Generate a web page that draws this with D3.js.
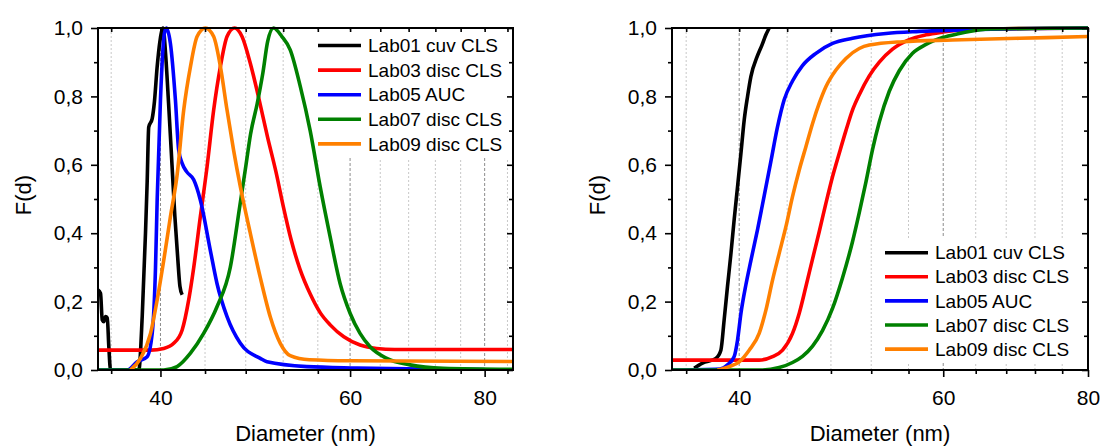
<!DOCTYPE html>
<meta charset="utf-8">
<svg width="1105" height="447"></svg>
<script src="https://d3js.org/d3.v7.min.js"></script>
<style>
body { margin:0; background:#fff; }
svg { display:block; }
text { font-family:"Liberation Sans", Arial, sans-serif; fill:#000; }
</style>
<script>

// ---- data ----
var labels = ['Lab01 cuv CLS', 'Lab03 disc CLS', 'Lab05 AUC', 'Lab07 disc CLS', 'Lab09 disc CLS'];
var colors = ['#000000', '#ff0000', '#0000ff', '#008000', '#ff8000'];

// left panel: normalised density
var lab01Dens_d = [35.0, 35.19, 35.32, 35.44, 35.57, 35.70, 35.82, 35.95, 38.19, 38.47, 38.74, 38.88, 39.01, 39.30, 39.49, 39.72, 39.95, 40.23, 40.45, 40.7, 41.0, 41.25, 41.5, 41.7, 41.9];
var lab01Dens_F = [0.234, 0.224, 0.146, 0.141, 0.156, 0.152, 0.068, 0, 0, 0.156, 0.40, 0.55, 0.71, 0.735, 0.785, 0.887, 0.96, 1.0, 0.92, 0.78, 0.6, 0.45, 0.33, 0.245, 0.22];

var lab03Dens_d = [35, 39.16, 40.28, 41.15, 41.90, 42.49, 42.95, 43.56, 44.19, 44.82, 45.47, 46.12, 46.87, 47.62, 48.47, 49.4, 50.3, 51.2, 52.0, 52.9, 53.9, 55.1, 56.3, 57.5, 59.2, 61.3, 63.5, 66, 85];
var lab03Dens_F = [0.058, 0.058, 0.063, 0.078, 0.117, 0.205, 0.30, 0.448, 0.594, 0.76, 0.887, 0.975, 1.0, 0.975, 0.897, 0.79, 0.68, 0.58, 0.48, 0.38, 0.295, 0.222, 0.167, 0.132, 0.097, 0.073, 0.063, 0.06, 0.06];

var lab05Dens_d = [35, 37.26, 38.06, 38.88, 39.30, 39.58, 39.72, 40.0, 40.34, 40.52, 40.86, 41.3, 41.59, 41.9, 42.3, 42.95, 43.56, 44.5, 45.14, 46.12, 47.45, 49.52, 50.23, 54.7, 60.86, 70.1, 80];
var lab05Dens_F = [0, 0, 0.024, 0.039, 0.107, 0.30, 0.497, 0.79, 0.985, 1.0, 0.955, 0.79, 0.643, 0.604, 0.58, 0.556, 0.497, 0.35, 0.253, 0.156, 0.078, 0.034, 0.024, 0.01, 0.006, 0.003, 0.001];

var lab07Dens_d = [35, 40.28, 41.45, 42.65, 43.87, 45.14, 46.44, 47.4, 48.0, 48.5, 49.2, 49.8, 50.3, 50.94, 51.86, 52.79, 53.93, 55.09, 56.28, 57.49, 58.73, 60, 61.29, 62.62, 64.89, 68.2, 73.22, 85];
var lab07Dens_F = [0, 0, 0.01, 0.049, 0.107, 0.185, 0.30, 0.48, 0.594, 0.69, 0.78, 0.87, 0.96, 1.0, 0.975, 0.936, 0.83, 0.70, 0.536, 0.39, 0.253, 0.166, 0.107, 0.068, 0.034, 0.015, 0.005, 0.002];

var lab09Dens_d = [37.52, 38.33, 39.16, 39.72, 40.28, 40.86, 41.45, 42.04, 42.65, 43.26, 44.03, 44.82, 45.47, 46.12, 46.77, 47.45, 48.47, 49.52, 50.59, 51.68, 52.79, 55.0, 60.0, 85];
var lab09Dens_F = [0, 0.034, 0.107, 0.205, 0.32, 0.448, 0.57, 0.76, 0.887, 0.975, 1.0, 0.975, 0.887, 0.76, 0.643, 0.536, 0.40, 0.27, 0.155, 0.078, 0.042, 0.03, 0.027, 0.025];

// right panel: cumulative
var lab01Cum_d = [36.58, 37.18, 38.19, 38.57, 38.82, 39.08, 39.35, 39.60, 39.87, 40.14, 40.40, 40.67, 40.94, 41.45, 41.85, 42.18, 42.46];
var lab01Cum_F = [0.005, 0.02, 0.034, 0.058, 0.146, 0.244, 0.341, 0.439, 0.536, 0.634, 0.731, 0.80, 0.858, 0.916, 0.95, 0.98, 1.0];

var lab03Cum_d = [35, 41.62, 42.74, 43.60, 44.47, 45.07, 45.67, 46.28, 46.9, 47.52, 48.15, 48.8, 49.45, 50.1, 50.78, 51.8, 52.84, 54.25, 56.08, 57.98, 59.92, 63.2, 80];
var lab03Cum_F = [0.029, 0.029, 0.039, 0.058, 0.107, 0.166, 0.244, 0.325, 0.405, 0.487, 0.565, 0.634, 0.70, 0.76, 0.805, 0.86, 0.90, 0.938, 0.966, 0.98, 0.988, 0.996, 1.0];

var lab05Cum_d = [35, 38.5, 39.08, 39.60, 39.87, 40.14, 40.54, 40.94, 41.48, 42.04, 42.60, 43.16, 43.74, 44.47, 45.36, 46.59, 48.15, 50.1, 53.55, 57.2, 63.2, 80];
var lab05Cum_F = [0, 0.003, 0.015, 0.039, 0.088, 0.166, 0.25, 0.32, 0.41, 0.51, 0.61, 0.71, 0.79, 0.845, 0.89, 0.926, 0.955, 0.97, 0.984, 0.99, 0.995, 1.0];

var lab07Cum_d = [35, 41.9, 43.31, 44.47, 45.36, 46.28, 47.20, 48.15, 49.12, 50.1, 50.78, 51.46, 52.14, 52.84, 53.9, 54.98, 56.45, 57.98, 59.92, 61.95, 63.2, 65.75, 80];
var lab07Cum_F = [0, 0, 0.007, 0.022, 0.04, 0.07, 0.115, 0.18, 0.27, 0.375, 0.46, 0.55, 0.645, 0.725, 0.815, 0.875, 0.926, 0.952, 0.972, 0.984, 0.99, 0.997, 1.0];

var lab09Cum_d = [38.31, 39.21, 40.0, 40.80, 41.62, 42.18, 42.74, 43.31, 43.89, 44.47, 45.07, 45.67, 46.28, 46.9, 47.52, 48.48, 49.45, 50.78, 51.8, 55.34, 61.12, 69.8, 80];
var lab09Cum_F = [0, 0.01, 0.024, 0.058, 0.107, 0.175, 0.263, 0.341, 0.419, 0.507, 0.585, 0.653, 0.721, 0.78, 0.828, 0.877, 0.911, 0.94, 0.95, 0.96, 0.965, 0.97, 0.975];

var yMajor = [0, 0.2, 0.4, 0.6, 0.8, 1.0];
var yMinor = [0.1, 0.3, 0.5, 0.7, 0.9];

function zip(d, F) {
    return d.map(function(v, i) { return {d: v, F: F[i]} })
}

var svg = d3.select('svg');

function drawPanel(p) {
    var x = d3.scaleLog().domain([35, p.xMax]).range([p.x0, p.x1]);
    var y = d3.scaleLinear().domain([0, 1]).range([p.y1, p.y0]);
    var g = svg.append('g');

    var ticks = d3.range(36, p.xMax + 0.1, 4);
    var major = ticks.filter(function(v) { return v % 20 === 0 });
    var minor = ticks.filter(function(v) { return v % 20 !== 0 });

    // vertical grid
    g.append('g').selectAll('line').data(minor).enter().append('line')
        .attr('x1', function(v) { return x(v) }).attr('x2', function(v) { return x(v) })
        .attr('y1', p.y0).attr('y2', p.y1)
        .attr('stroke', '#c8c8c8').attr('stroke-width', 1).attr('stroke-dasharray', '2,2');
    g.append('g').selectAll('line').data(major).enter().append('line')
        .attr('x1', function(v) { return x(v) }).attr('x2', function(v) { return x(v) })
        .attr('y1', p.y0).attr('y2', p.y1)
        .attr('stroke', '#8c8c8c').attr('stroke-width', 1).attr('stroke-dasharray', '3,2');

    // legend background hides the grid
    g.append('rect').attr('x', p.leg.bx).attr('y', p.leg.by)
        .attr('width', p.leg.bw).attr('height', p.leg.bh).attr('fill', '#fff');

    var clipId = 'clip' + p.x0;
    g.append('clipPath').attr('id', clipId).append('rect')
        .attr('x', p.x0).attr('y', p.y0 - 2).attr('width', p.x1 - p.x0).attr('height', p.y1 - p.y0 + 2);

    var line = d3.line()
        .x(function(pt) { return x(pt.d) })
        .y(function(pt) { return y(pt.F) })
        .curve(d3.curveMonotoneX);

    g.append('g').attr('clip-path', 'url(#' + clipId + ')')
        .selectAll('path').data(p.series).enter().append('path')
        .attr('d', function(s) { return line(s) })
        .attr('fill', 'none')
        .attr('stroke', function(s, i) { return colors[i] })
        .attr('stroke-width', 3.6)
        .attr('stroke-linejoin', 'round');

    // axes
    function style(sel) {
        sel.select('.domain').remove();
        sel.selectAll('line').attr('stroke', '#000').attr('stroke-width', 1.6);
        sel.selectAll('text').attr('font-size', 21).attr('font-family', '"Liberation Sans", Arial, sans-serif');
    }
    var fmt = function(v) { return d3.format('.1f')(v).replace('.', ',') };

    g.append('g').attr('transform', 'translate(0,' + p.y1 + ')')
        .call(d3.axisBottom(x).tickValues(major).tickSize(7).tickPadding(13).tickFormat(d3.format('d'))).call(style);
    g.append('g').attr('transform', 'translate(0,' + p.y1 + ')')
        .call(d3.axisBottom(x).tickValues(minor).tickSize(4).tickFormat('')).call(style);
    g.append('g').attr('transform', 'translate(0,' + p.y0 + ')')
        .call(d3.axisTop(x).tickValues(ticks).tickSize(-4).tickFormat('')).call(style);

    g.append('g').attr('transform', 'translate(' + p.x0 + ',0)')
        .call(d3.axisLeft(y).tickValues(yMajor).tickSize(7).tickPadding(8).tickFormat(fmt)).call(style);
    g.append('g').attr('transform', 'translate(' + p.x0 + ',0)')
        .call(d3.axisLeft(y).tickValues(yMinor).tickSize(4).tickFormat('')).call(style);
    g.append('g').attr('transform', 'translate(' + p.x1 + ',0)')
        .call(d3.axisRight(y).tickValues(yMajor).tickSize(-6).tickFormat('')).call(style);
    g.append('g').attr('transform', 'translate(' + p.x1 + ',0)')
        .call(d3.axisRight(y).tickValues(yMinor).tickSize(-4).tickFormat('')).call(style);

    g.append('rect').attr('x', p.x0).attr('y', p.y0)
        .attr('width', p.x1 - p.x0).attr('height', p.y1 - p.y0)
        .attr('fill', 'none').attr('stroke', '#000').attr('stroke-width', 2);

    // titles
    g.append('text').attr('x', (p.x0 + p.x1) / 2).attr('y', 441)
        .attr('text-anchor', 'middle').attr('font-size', 22).text('Diameter (nm)');
    g.append('text').attr('transform', 'translate(' + (p.x0 - 67) + ',195) rotate(-90)')
        .attr('text-anchor', 'middle').attr('font-size', 22).text('F(d)');

    // legend
    var leg = g.append('g').selectAll('g').data(labels).enter().append('g')
        .attr('transform', function(l, i) { return 'translate(' + p.leg.x + ',' + (p.leg.y + i * p.leg.dy) + ')' });
    leg.append('line').attr('x1', 0).attr('x2', 43).attr('y1', 0).attr('y2', 0)
        .attr('stroke', function(l, i) { return colors[i] }).attr('stroke-width', 3.6);
    leg.append('text').attr('x', 50).attr('dy', '0.35em').attr('font-size', 19).text(function(l) { return l });
}

drawPanel({
    x0: 98, x1: 513, y0: 28, y1: 370, xMax: 85,
    series: [zip(lab01Dens_d, lab01Dens_F), zip(lab03Dens_d, lab03Dens_F), zip(lab05Dens_d, lab05Dens_F),
             zip(lab07Dens_d, lab07Dens_F), zip(lab09Dens_d, lab09Dens_F)],
    leg: {x: 318, y: 45.5, dy: 24.6, bx: 312, by: 30, bw: 199, bh: 128}
});

drawPanel({
    x0: 672, x1: 1088, y0: 28, y1: 370, xMax: 80,
    series: [zip(lab01Cum_d, lab01Cum_F), zip(lab03Cum_d, lab03Cum_F), zip(lab05Cum_d, lab05Cum_F),
             zip(lab07Cum_d, lab07Cum_F), zip(lab09Cum_d, lab09Cum_F)],
    leg: {x: 885, y: 252.7, dy: 24.1, bx: 878, by: 238, bw: 208, bh: 124}
});

</script>
